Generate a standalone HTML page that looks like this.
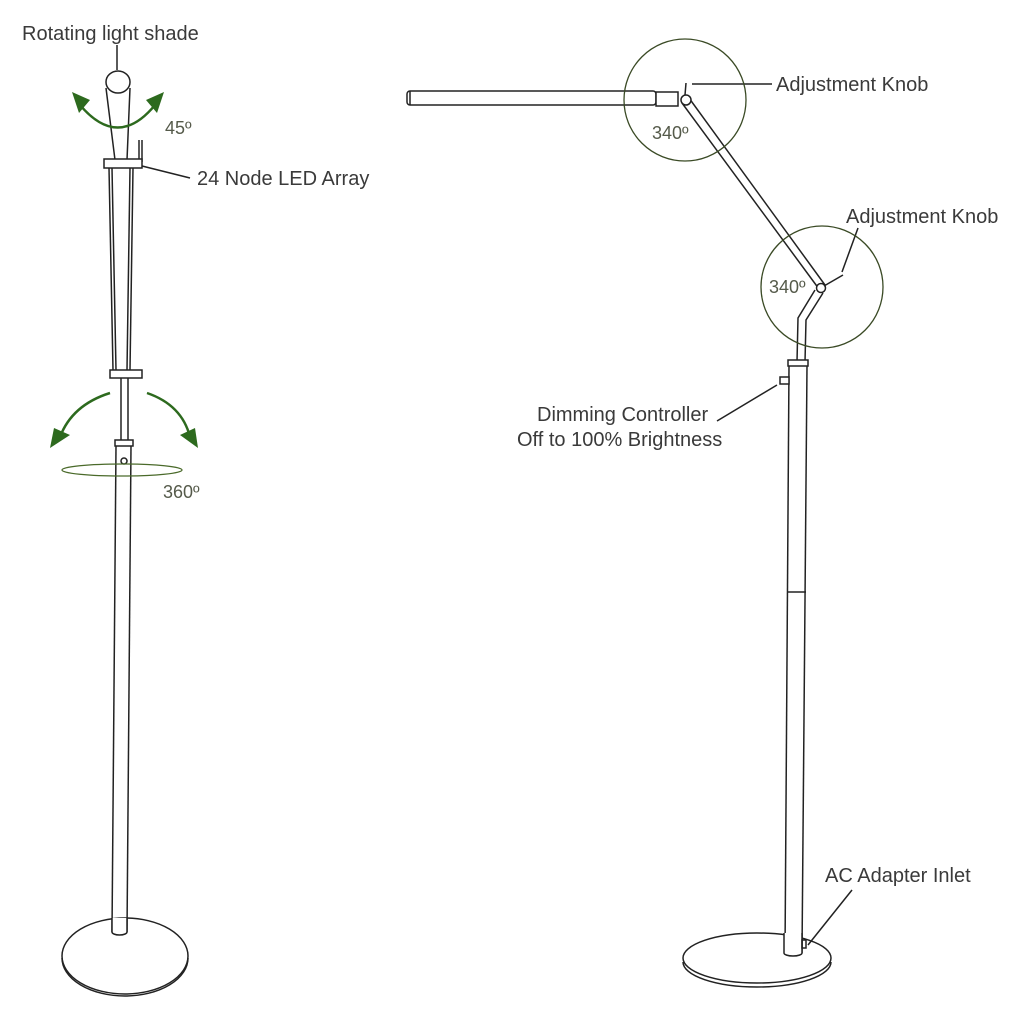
<!DOCTYPE html>
<html><head><meta charset="utf-8"><style>
html,body{margin:0;padding:0;background:#fff;}
svg{display:block;}
text{font-family:"Liberation Sans",sans-serif;fill:#3a3a3a;font-size:20px;}
.g{fill:#555a4a;font-size:18px;}
</style></head><body>
<svg width="1024" height="1022" viewBox="0 0 1024 1022" xmlns="http://www.w3.org/2000/svg">
<g fill="none" stroke="#222" stroke-width="1.5">
<!-- LEFT LAMP -->
<line x1="117" y1="45" x2="117" y2="70"/>
<path d="M106 88 L115 160 L127 160 L130 88"/>
<ellipse cx="118" cy="82" rx="12" ry="11" fill="#fff"/>
<line x1="139" y1="140" x2="139" y2="162"/><line x1="142" y1="140" x2="142" y2="162"/>
<rect x="104" y="159" width="38" height="9" fill="#fff"/>
<line x1="109" y1="168" x2="113" y2="370"/><line x1="112" y1="168" x2="116" y2="370"/>
<line x1="133" y1="168" x2="130" y2="370"/><line x1="130" y1="168" x2="127" y2="370"/>
<rect x="110" y="370" width="32" height="8" fill="#fff"/>
<line x1="121" y1="378" x2="121" y2="440"/><line x1="128" y1="378" x2="128" y2="440"/>
<rect x="115" y="440" width="18" height="6" fill="#fff"/>
<line x1="116" y1="446" x2="112" y2="932"/><line x1="131" y1="446" x2="127" y2="932"/>
<circle cx="124" cy="461" r="3"/>
<ellipse cx="125" cy="956" rx="63" ry="38"/>
<path d="M62 958 A63 38 0 0 0 188 958"/>
<path d="M112 918 L112 932 A7.5 3 0 0 0 127 932 L127 918" fill="#fff"/>
<line x1="142" y1="166" x2="190" y2="178"/>
<!-- RIGHT LAMP -->
<rect x="407" y="91" width="249" height="14" rx="3" fill="#fff"/>
<line x1="410" y1="91" x2="410" y2="105"/>
<rect x="656" y="92" width="22" height="14" fill="#fff"/>
<line x1="682" y1="103" x2="819" y2="289"/><line x1="689" y1="98" x2="825" y2="285"/>
<circle cx="686" cy="100" r="5" fill="#fff"/>
<line x1="685" y1="95" x2="686" y2="83"/>
<line x1="692" y1="84" x2="772" y2="84"/>
<path d="M815 290 L798 318 L797 362 M823 293 L806 320 L805 362"/>
<circle cx="821" cy="288" r="4.5" fill="#fff"/>
<line x1="824" y1="286" x2="843" y2="275"/>
<line x1="842" y1="272" x2="858" y2="228"/>
<rect x="788" y="360" width="20" height="6" fill="#fff"/>
<line x1="789" y1="366" x2="785" y2="953"/><line x1="807" y1="366" x2="802" y2="953"/>
<line x1="788" y1="592" x2="806" y2="592"/>
<rect x="780" y="377" width="9" height="7" fill="#fff"/>
<line x1="717" y1="421" x2="777" y2="385"/>
<ellipse cx="757" cy="958" rx="74" ry="25"/>
<path d="M683 962 A74 25 0 0 0 831 962"/>
<path d="M784 933 L784 953 A9 3 0 0 0 802 953 L802 933" fill="#fff"/>
<rect x="802" y="940" width="4" height="8"/>
<line x1="808" y1="945" x2="852" y2="890"/>
</g>
<!-- green -->
<g fill="none" stroke="#2d6a1e" stroke-width="2.5">
<path d="M80 105 Q118 150 155 105"/>
<path d="M110 393 Q72 405 60 437"/>
<path d="M147 393 Q182 405 190 437"/>
</g>
<g fill="#2d6a1e">
<polygon points="72,92 90,100 79,113"/><polygon points="164,92 146,100 157,113"/>
<polygon points="50,448 54,428 70,435"/><polygon points="198,448 180,435 195,428"/>
</g>
<ellipse cx="122" cy="470" rx="60" ry="6" fill="none" stroke="#4a6a2a" stroke-width="1.3"/>
<circle cx="685" cy="100" r="61" fill="none" stroke="#3a4a25" stroke-width="1.3"/>
<circle cx="822" cy="287" r="61" fill="none" stroke="#3a4a25" stroke-width="1.3"/>
<text x="22" y="40">Rotating light shade</text>
<text class="g" x="165" y="134">45º</text>
<text x="197" y="185">24 Node LED Array</text>
<text class="g" x="163" y="498">360º</text>
<text x="776" y="91">Adjustment Knob</text>
<text class="g" x="652" y="139">340º</text>
<text x="846" y="223">Adjustment Knob</text>
<text class="g" x="769" y="293">340º</text>
<text x="537" y="421">Dimming Controller</text>
<text x="517" y="446">Off to 100% Brightness</text>
<text x="825" y="882">AC Adapter Inlet</text>
</svg>
</body></html>
